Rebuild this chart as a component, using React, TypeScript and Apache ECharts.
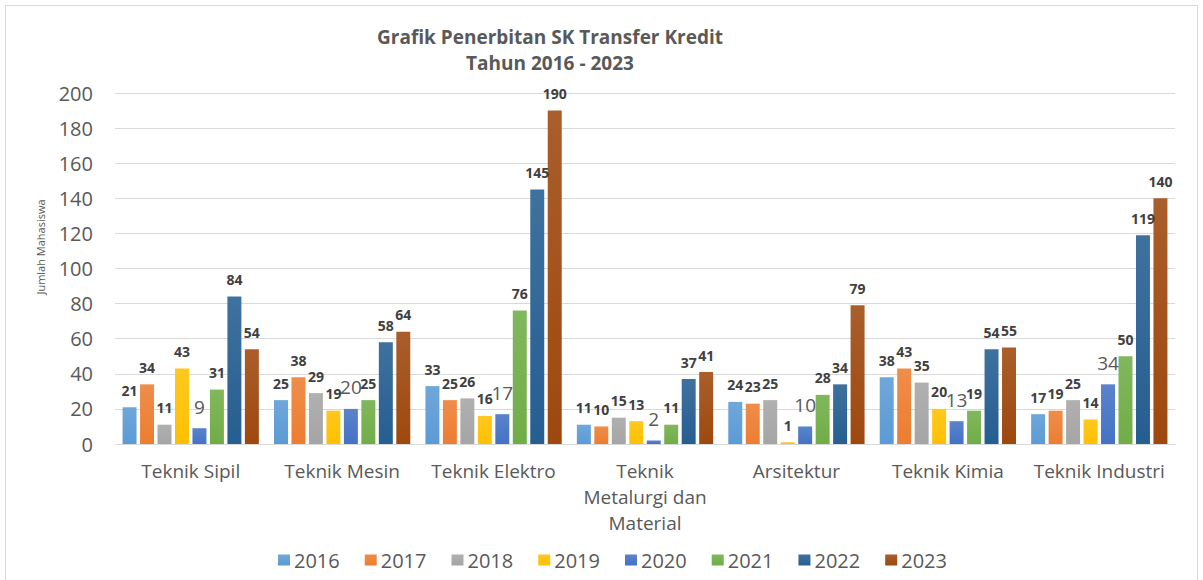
import React, { useEffect, useRef } from "react";
import * as echarts from "echarts";

const categories = [
  "Teknik Sipil",
  "Teknik Mesin",
  "Teknik Elektro",
  "Teknik\nMetalurgi dan\nMaterial",
  "Arsitektur",
  "Teknik Kimia",
  "Teknik Industri",
];
const years = ["2016", "2017", "2018", "2019", "2020", "2021", "2022", "2023"];
const v2016 = [21, 25, 33, 11, 24, 38, 17];
const v2017 = [34, 38, 25, 10, 23, 43, 19];
const v2018 = [11, 29, 26, 15, 25, 35, 25];
const v2019 = [43, 19, 16, 13, 1, 20, 14];
const v2020 = [9, 20, 17, 2, 10, 13, 34];
const v2021 = [31, 25, 76, 11, 28, 19, 50];
const v2022 = [84, 58, 145, 37, 34, 54, 119];
const v2023 = [54, 64, 190, 41, 79, 55, 140];
const seriesValues = [v2016, v2017, v2018, v2019, v2020, v2021, v2022, v2023];
const colors = ["#5B9BD5", "#ED7D31", "#A5A5A5", "#FFC000", "#4472C4", "#70AD47", "#255E91", "#9E480E"];
const yTicks = { min: 0, max: 200, interval: 20 };

function lighten(hex: string, amt: number) {
  const n = parseInt(hex.slice(1), 16);
  const r = (n >> 16) & 255, g = (n >> 8) & 255, b = n & 255;
  const f = (c: number) => Math.round(c + (255 - c) * amt);
  return `rgb(${f(r)},${f(g)},${f(b)})`;
}

export default function App() {
  const ref = useRef<HTMLDivElement>(null);
  useEffect(() => {
    document.body.style.margin = "0";
    const chart = echarts.init(ref.current!, null, { renderer: "svg" });
    const series = years.map((y, i) => ({
      name: y,
      type: "bar",
      data: seriesValues[i],
      barGap: "25%",
      barCategoryGap: "10%",
      itemStyle: {
        color: new echarts.graphic.LinearGradient(0, 0, 0, 1, [
          { offset: 0, color: lighten(colors[i], 0.12) },
          { offset: 1, color: colors[i] },
        ]),
      },
      label: {
        show: true,
        position: "top",
        distance: i === 4 ? 12 : 10,
        color: i === 4 ? "#595959" : "#404040",
        fontFamily: "Open Sans",
        fontSize: i === 4 ? 19 : 14,
        fontWeight: i === 4 ? "normal" : "bold",
      },
    }));
    chart.setOption({
      animation: false,
      color: colors,
      title: {
        text: "Grafik Penerbitan SK Transfer Kredit\nTahun 2016 - 2023",
        left: 545,
        top: 19,
        textAlign: "center",
        textStyle: {
          fontFamily: "Open Sans",
          fontSize: 19,
          fontWeight: "bold",
          color: "#595959",
          lineHeight: 26,
        },
      },
      legend: {
        data: years,
        top: 545,
        left: 273,
        itemWidth: 12,
        itemHeight: 11,
        itemGap: 25,
        icon: "rect",
        textStyle: { fontFamily: "Open Sans", fontSize: 20, color: "#595959", padding: [0, 0, 0, -1] },
      },
      grid: { left: 115, right: 28, top: 93, bottom: 136 },
      xAxis: {
        type: "category",
        data: categories,
        axisTick: { show: false },
        axisLine: { lineStyle: { color: "#d9d9d9", width: 1 } },
        axisLabel: {
          color: "#595959",
          fontFamily: "Open Sans",
          fontSize: 19,
          lineHeight: 26,
          margin: 14,
          interval: 0,
        },
      },
      yAxis: {
        type: "value",
        min: yTicks.min,
        max: yTicks.max,
        interval: yTicks.interval,
        axisLabel: { color: "#595959", fontFamily: "Open Sans", fontSize: 20, margin: 22 },
        splitLine: { lineStyle: { color: "#d9d9d9", width: 1 } },
        axisLine: { show: false },
        axisTick: { show: false },
      },
      graphic: [
        {
          type: "rect",
          shape: { x: 5.5, y: 5.5, width: 1192, height: 580 },
          style: { fill: "none", stroke: "#d9d9d9", lineWidth: 1 },
          silent: true,
        },
        {
          type: "text",
          x: 40,
          y: 247,
          rotation: Math.PI / 2,
          style: {
            text: "Jumlah Mahasiswa",
            fontFamily: "Open Sans",
            fontSize: 11,
            fill: "#595959",
            align: "center",
            verticalAlign: "middle",
          },
          silent: true,
        },
      ],
      series,
    });
    return () => chart.dispose();
  }, []);
  return <div ref={ref} style={{ width: 1203, height: 580 }} />;
}
